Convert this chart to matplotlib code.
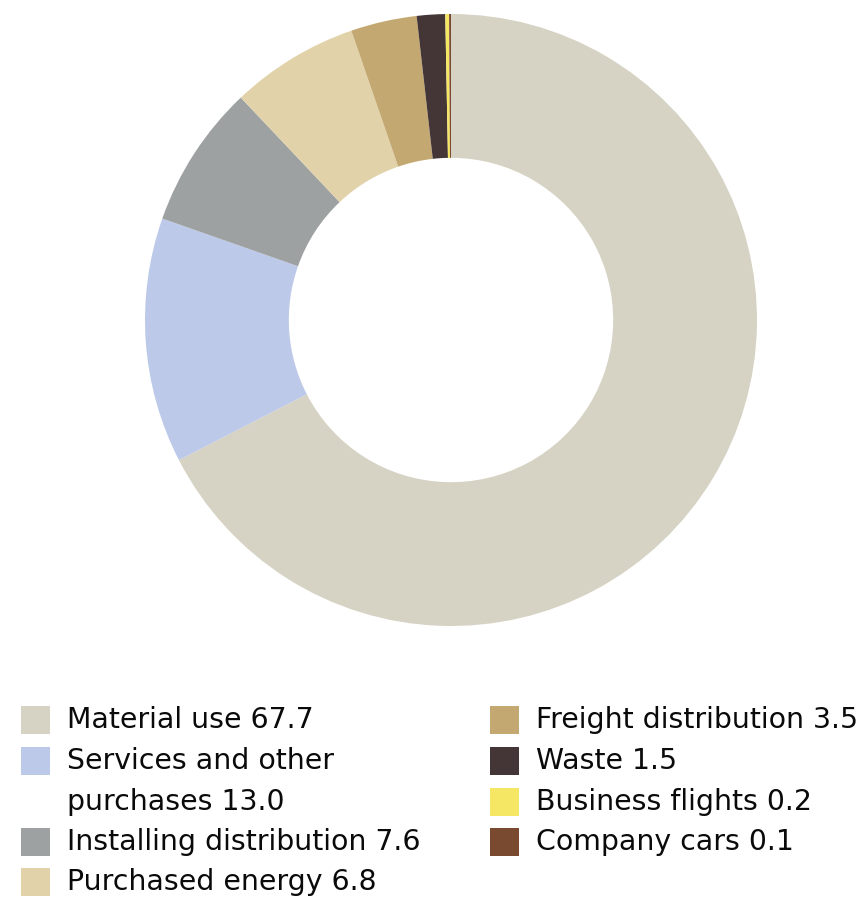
import matplotlib
matplotlib.use("Agg")
import matplotlib.pyplot as plt
from matplotlib.patches import Rectangle

# Emission sources, share of total (%)
sources = ["Material use", "Services and other\npurchases", "Installing distribution",
           "Purchased energy", "Freight distribution", "Waste", "Business flights",
           "Company cars"]
shares = [67.7, 13.0, 7.6, 6.8, 3.5, 1.5, 0.2, 0.1]
colors = ["#d6d3c4", "#bdc9e8", "#9ea1a1", "#e1d2a9", "#c4a872", "#443536",
          "#f5e663", "#7a4a30"]

W, H = 867, 899
fig = plt.figure(figsize=(W / 100, H / 100), dpi=100)

# donut
cx, cy, r = 451, 320, 306
ax = fig.add_axes([(cx - r) / W, (H - cy - r) / H, 2 * r / W, 2 * r / H])
ax.pie(shares, colors=colors, startangle=90, counterclock=False,
       wedgeprops=dict(width=0.47, linewidth=0))
ax.set_xlim(-1, 1)
ax.set_ylim(-1, 1)
ax.set_aspect("equal")
ax.axis("off")

# legend drawn by hand in pixel coordinates
font = dict(family="DejaVu Sans", fontsize=20.4)
row_y = [720, 761, 802, 842, 882]
slots = [(0, 0), (0, 1), (0, 3), (0, 4), (1, 0), (1, 1), (1, 2), (1, 3)]
col_x = [21, 490]
for (col, row), name, val, c in zip(slots, sources, shares, colors):
    x, y = col_x[col], row_y[row]
    fig.patches.append(Rectangle((x / W, (H - y - 14) / H), 29 / W, 28 / H,
                                 transform=fig.transFigure, color=c, lw=0))
    lines = f"{name} {val}".split("\n")
    for k, line in enumerate(lines):
        fig.text((x + 46) / W, (H - row_y[row + k]) / H, line,
                 va="center", ha="left", color="#0a0a0a", **font)

fig.savefig("out.png", dpi=100)
